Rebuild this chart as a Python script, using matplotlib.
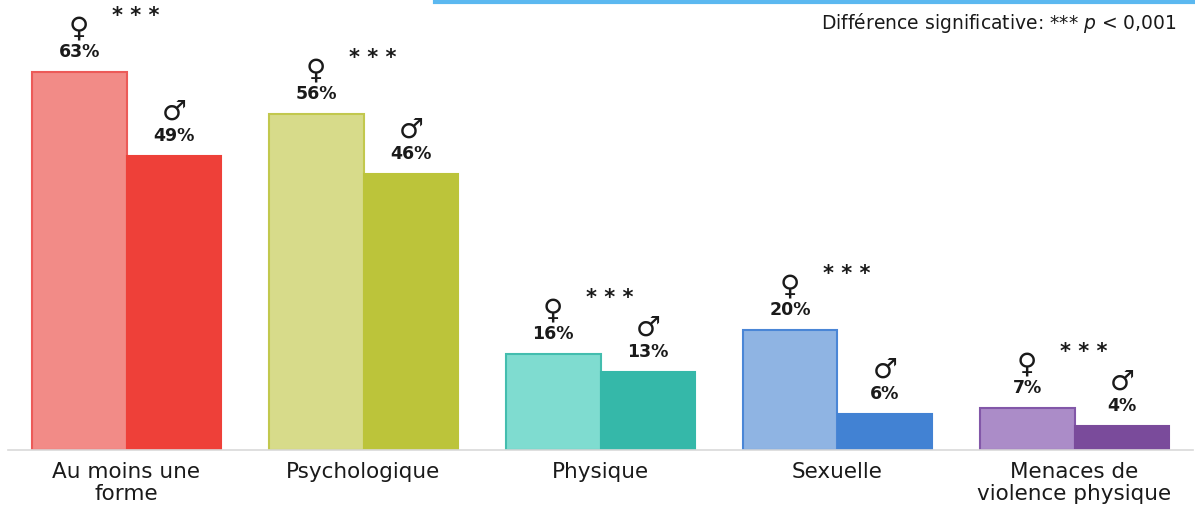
import matplotlib.pyplot as plt
import matplotlib.lines as mlines
import numpy as np

plt.rcParams['font.family'] = ['DejaVu Sans']

# data
categories = ['Au moins une\nforme', 'Psychologique', 'Physique', 'Sexuelle', 'Menaces de\nviolence physique']
femmes = [63, 56, 16, 20, 7]
hommes = [49, 46, 13, 6, 4]
signif = ['* * *', '* * *', '* * *', '* * *', '* * *']

col_f = ['#F28B87', '#D7DB8A', '#7FDCD0', '#8FB4E3', '#AB8CC8']
edge_f = ['#EC5A58', '#C2C84E', '#43BDAE', '#4A86D6', '#8257A8']
col_h = ['#EE4039', '#BCC43A', '#35B8A9', '#4282D3', '#7A4B9B']

fig = plt.figure(figsize=(11.95, 5.08), dpi=100)
ax = fig.add_axes([8 / 1195, 58 / 508, 1185 / 1195, 450 / 508])

x = np.arange(len(categories))
w = 0.4
ax.bar(x - w / 2, femmes, w, color=col_f, edgecolor=edge_f, linewidth=1.5)
ax.bar(x + w / 2, hommes, w, color=col_h, edgecolor=col_h, linewidth=1.5)

txt = '#1a1a1a'
for i in range(len(categories)):
    for xc, v, sym in [(x[i] - w / 2, femmes[i], '\u2640'), (x[i] + w / 2, hommes[i], '\u2642')]:
        ax.text(xc, v + 2.5, f'{v}%', ha='center', va='baseline',
                fontsize=12.5, color=txt, fontweight='bold')
        ax.text(xc, v + 5.0, sym, ha='center', va='bottom',
                fontsize=20, color=txt)
    ax.text(x[i] + 0.04, femmes[i] + 9.3, signif[i], ha='center', va='center',
            fontsize=15, color=txt, fontweight='bold')

ax.set_xlim(-0.5, 4.5)
ax.set_ylim(0, 75)
for s in ['top', 'right', 'left']:
    ax.spines[s].set_visible(False)
ax.spines['bottom'].set_color('#D9D9D9')
ax.spines['bottom'].set_linewidth(1.2)
ax.set_yticks([])
ax.set_xticks(x)
ax.set_xticklabels(categories, fontsize=15.5, color=txt, linespacing=1.12)
ax.tick_params(axis='x', length=0, pad=9)

fig.text(0.985, 0.955, 'Différence significative: *** $p$ < 0,001', ha='right', va='center',
         fontsize=13.5, color=txt)
fig.add_artist(mlines.Line2D([435 / 1195, 1.0], [0.997, 0.997], color='#5BB8F0', linewidth=3))

fig.savefig('out.png', dpi=100)
